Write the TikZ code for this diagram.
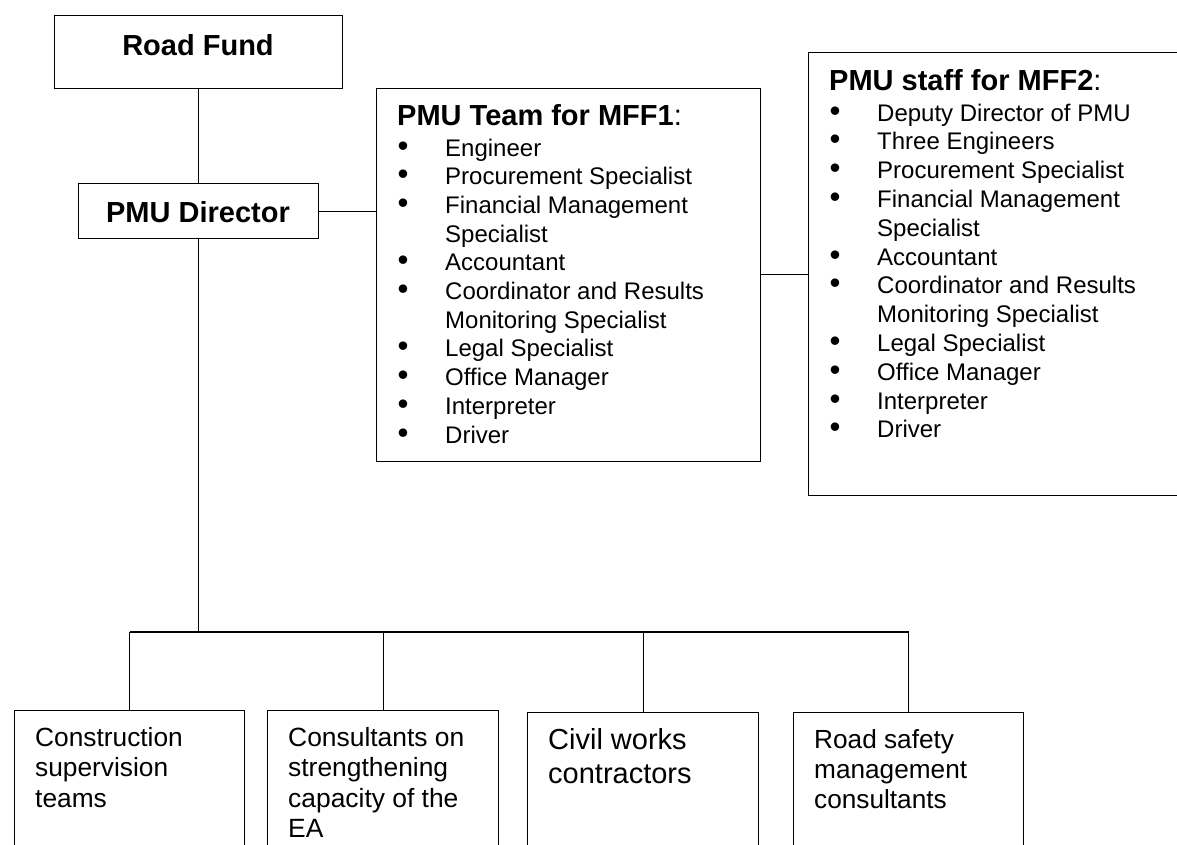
\documentclass[tikz,border=0pt]{standalone}
\usepackage{fontspec}
\usepackage{graphicx}
\setmainfont{Liberation Sans}
\newcommand{\bitem}[1]{\par\noindent\makebox[48pt][l]{\hspace{0.5pt}\scalebox{1.3}{\textbullet}}#1}
\newcommand{\contline}[1]{\par\noindent\hspace*{48pt}#1}
\begin{document}
\begin{tikzpicture}[x=1pt,y=-1pt,
  box/.style={draw,line width=1.4pt,rectangle,inner sep=0pt,anchor=north west},
  conn/.style={line width=1.4pt},
  txt/.style={inner sep=0pt,anchor=base west},
  ctxt/.style={inner sep=0pt,anchor=base,font=\fontsize{29}{34}\selectfont\bfseries}]
\useasboundingbox (0,0) rectangle (1177,844);
\clip (0,0) rectangle (1177,844);
% top boxes
\node[box,minimum width=288pt,minimum height=73pt] (rf) at (54,15) {};
\node[ctxt] (rft) at (198,55) {Road Fund};
\node[box,minimum width=240pt,minimum height=55pt] (pd) at (78,183) {};
\node[ctxt] (pdt) at (198,222) {PMU Director};
\node[box,minimum width=384pt,minimum height=373pt] (m1) at (376,88) {};
\node[box,minimum width=420pt,minimum height=443pt] (m2) at (808,52) {};
% bottom boxes
\node[box,minimum width=230pt,minimum height=200pt] (b1) at (14,710) {};
\node[box,minimum width=231pt,minimum height=200pt] (b2) at (267,710) {};
\node[box,minimum width=231pt,minimum height=200pt] (b3) at (527,712) {};
\node[box,minimum width=230pt,minimum height=200pt] (b4) at (793,712) {};
% list texts
\node[txt] (m1t) at (397,125) {\begin{minipage}[t]{360pt}
{\fontsize{29}{34}\selectfont\textbf{PMU Team for MFF1}:}\par
\fontsize{24}{28.7}\selectfont\vspace{2.3pt}
\bitem{Engineer}
\bitem{Procurement Specialist}
\bitem{Financial Management}
\contline{Specialist}
\bitem{Accountant}
\bitem{Coordinator and Results}
\contline{Monitoring Specialist}
\bitem{Legal Specialist}
\bitem{Office Manager}
\bitem{Interpreter}
\bitem{Driver}
\end{minipage}};
\node[txt] (m2t) at (829,90) {\begin{minipage}[t]{340pt}
{\fontsize{29}{34}\selectfont\textbf{PMU staff for MFF2}:}\par
\fontsize{24}{28.8}\selectfont\vspace{2.2pt}
\bitem{Deputy Director of PMU}
\bitem{Three Engineers}
\bitem{Procurement Specialist}
\bitem{Financial Management}
\contline{Specialist}
\bitem{Accountant}
\bitem{Coordinator and Results}
\contline{Monitoring Specialist}
\bitem{Legal Specialist}
\bitem{Office Manager}
\bitem{Interpreter}
\bitem{Driver}
\end{minipage}};
% bottom texts
\node[txt] (b1t) at (35,746) {\begin{minipage}[t]{200pt}\fontsize{26.3}{30.6}\selectfont
Construction\\supervision\\teams\end{minipage}};
\node[txt] (b2t) at (288,746) {\begin{minipage}[t]{200pt}\fontsize{26.4}{30.6}\selectfont
Consultants on\\strengthening\\capacity of the\\EA\end{minipage}};
\node[txt] (b3t) at (548,749) {\begin{minipage}[t]{200pt}\fontsize{29}{34}\selectfont
Civil works\\contractors\end{minipage}};
\node[txt] (b4t) at (814,748) {\begin{minipage}[t]{200pt}\fontsize{26.2}{30}\selectfont
Road safety\\management\\consultants\end{minipage}};
% connectors
\coordinate (bus) at (0,632);
\draw[conn] (rf.south) -- (pd.north);
\draw[conn] (pd.east) -- (pd.east -| m1.west);
\draw[conn] (m1.east |- m2.west) -- (m2.west);
\draw[conn] (pd.south) -- (pd.south |- bus);
\draw[conn] (b1.north |- bus) -- (b4.north |- bus);
\draw[conn] (b1.north) -- (b1.north |- bus);
\draw[conn] (b2.north) -- (b2.north |- bus);
\draw[conn] (b3.north) -- (b3.north |- bus);
\draw[conn] (b4.north) -- (b4.north |- bus);
\end{tikzpicture}
\end{document}
